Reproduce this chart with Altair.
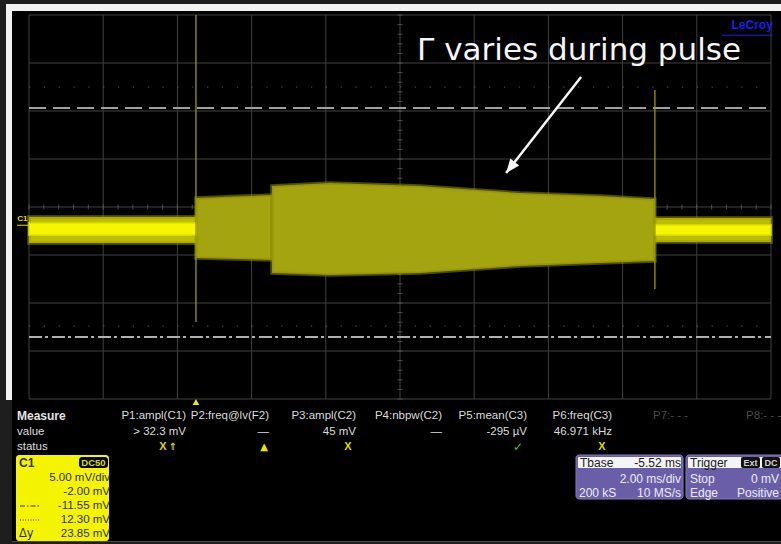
import altair as alt
import pandas as pd

# ---------------- waveform (time in ms, level in mV) ----------------
trace_time = [0.0, 4.50, 4.50, 6.55, 6.55, 8.11, 10.54, 13.23, 15.39, 16.87, 16.87, 20.0]
trace_upper = [-1.04, -1.04, 0.94, 1.25, 2.19, 2.50, 2.19, 1.46, 1.15, 0.83, -1.15, -1.15]
trace_lower = [-3.75, -3.75, -5.31, -5.52, -6.88, -7.08, -6.88, -6.15, -5.83, -5.63, -3.65, -3.65]
trace_segment = ["before", "before", "step1", "step1", "step2", "step2", "step2",
                 "step2", "step2", "step2", "after", "after"]

core_time = [0.0, 4.50, 16.87, 20.0]
core_upper = [-1.67, -1.67, -1.88, -1.88]
core_lower = [-2.92, -2.92, -2.92, -2.92]
core_segment = ["before", "before", "after", "after"]

# glitches at pulse on/off
glitch_time = [4.50, 16.87]
glitch_top = [20.0, 12.19]
glitch_bottom = [-11.98, -8.54]

# cursors
cursor_dashed = [10.31]
cursor_dashdot = [-13.54]
cursor_dotted = [12.5, -12.4]

# screen graticule: 2 ms/div, 5 mV/div
grid_time = [0, 2, 4, 6, 8, 10, 12, 14, 16, 18, 20]
grid_level = [-20, -15, -10, -5, 0, 5, 10, 15, 20]
minor_time = [round(0.4 * k, 2) for k in range(51)]
minor_level = list(range(-20, 21))

# annotation
note_text = ["Γ varies during pulse"]
note_time = [10.46]
note_level = [15.31]
arrow_start = [14.88, 13.54]
arrow_end = [12.86, 3.54]

# ---------------- measurement panel text ----------------
measure_rows = ["Measure", "value", "status"]
measure_headers = ["P1:ampl(C1)", "P2:freq@lv(F2)", "P3:ampl(C2)", "P4:nbpw(C2)",
                   "P5:mean(C3)", "P6:freq(C3)"]
measure_values = ["> 32.3 mV", "—", "45 mV", "—", "-295 µV", "46.971 kHz"]
measure_idle = ["P7:- - -", "P8:- - -"]
channel_rows = ["5.00 mV/div", "-2.00 mV", "-11.55 mV", "12.30 mV", "23.85 mV"]
tbase_rows = [("Tbase", "-5.52 ms"), ("", "2.00 ms/div"), ("200 kS", "10 MS/s")]
trigger_rows = [("Trigger", ""), ("Stop", "0 mV"), ("Edge", "Positive")]

# ---------------- layout ----------------
OX, OY = 29, 15          # plot origin on the page
W, H = 742, 384          # plot area
XS = alt.Scale(domain=[0, 20], nice=False, zero=False)
YS = alt.Scale(domain=[-20, 20], nice=False, zero=False)
PANEL_FONT = "Liberation Sans"
GRID = "#404040"


def xq(field):
    return alt.X(field, type="quantitative", scale=XS, axis=None)


def yq(field):
    return alt.Y(field, type="quantitative", scale=YS, axis=None)


def box(x1, y1, x2, y2, fill, radius=0, stroke=None):
    kw = dict(color=fill, cornerRadius=radius)
    if stroke:
        kw.update(stroke=stroke, strokeWidth=1)
    return alt.Chart().mark_rect(**kw).encode(
        x=alt.value(x1 - OX), x2=alt.value(x2 - OX),
        y=alt.value(y1 - OY), y2=alt.value(y2 - OY))


def label(txt, x, y, color="#dcdcdc", size=11.5, align="left", weight="normal",
          font=PANEL_FONT):
    return alt.Chart().mark_text(
        text=txt, align=align, baseline="middle", fontSize=size,
        fontWeight=weight, font=font, color=color).encode(
        x=alt.value(x - OX), y=alt.value(y - OY))


def hline(x1, x2, y, color, dash, width=1):
    return alt.Chart().mark_rule(color=color, strokeDash=dash, strokeWidth=width).encode(
        x=alt.value(x1 - OX), x2=alt.value(x2 - OX), y=alt.value(y - OY))


layers = []

# page frame
layers += [
    box(6, 4, 781, 11, "#f2f2f2"),
    box(6, 4, 12, 400, "#f2f2f2"),
    box(12, 11, 781, 541, "#000000"),
    box(12, 541, 781, 542, "#4a4a4a"),
]

# graticule
gx = pd.DataFrame({"t": grid_time, "lo": -20, "hi": 20})
gy = pd.DataFrame({"v": grid_level, "a": 0, "b": 20})
layers.append(alt.Chart(gx).mark_rule(color=GRID, strokeWidth=1).encode(
    x=xq("t"), y=yq("lo"), y2="hi"))
layers.append(alt.Chart(gy).mark_rule(color=GRID, strokeWidth=1).encode(
    y=yq("v"), x=xq("a"), x2="b"))
mx = pd.DataFrame({"t": minor_time, "v": 0})
my = pd.DataFrame({"v": minor_level, "t": 10})
layers.append(alt.Chart(mx).mark_tick(orient="vertical", size=5, thickness=1,
                                      color="#6a6a6a").encode(x=xq("t"), y=yq("v")))
layers.append(alt.Chart(my).mark_tick(orient="horizontal", size=5, thickness=1,
                                      color="#6a6a6a").encode(x=xq("t"), y=yq("v")))

# cursors
dots = pd.DataFrame({"v": cursor_dotted, "a": 0, "b": 20})
layers.append(alt.Chart(dots).mark_rule(color="#5c5c5c", strokeWidth=1,
                                        strokeDash=[1.2, 13.64]).encode(
    y=yq("v"), x=xq("a"), x2="b"))
dash = pd.DataFrame({"v": cursor_dashed, "a": 0, "b": 20})
layers.append(alt.Chart(dash).mark_rule(color="#a0a0a0", strokeWidth=2,
                                        strokeDash=[17, 7]).encode(
    y=yq("v"), x=xq("a"), x2="b"))
dd = pd.DataFrame({"v": cursor_dashdot, "a": 0, "b": 20})
layers.append(alt.Chart(dd).mark_rule(color="#b0b0b0", strokeWidth=2,
                                      strokeDash=[13, 3, 3, 4]).encode(
    y=yq("v"), x=xq("a"), x2="b"))

# waveform envelope
tr = pd.DataFrame({"t": trace_time, "hi": trace_upper, "lo": trace_lower,
                   "seg": trace_segment})
pulse = tr[tr.seg.str.startswith("step")]
base = tr[~tr.seg.str.startswith("step")]
layers.append(alt.Chart(pulse).mark_area(color="#a4a410", stroke="#8c8c08",
                                         strokeWidth=3.5, strokeOpacity=0.55).encode(
    x=xq("t"), y=yq("hi"), y2="lo", detail="seg:N"))
layers.append(alt.Chart(base).mark_area(color="#bcbc00", stroke="#9c9c00",
                                        strokeWidth=3.5, strokeOpacity=0.55).encode(
    x=xq("t"), y=yq("hi"), y2="lo", detail="seg:N"))
core = pd.DataFrame({"t": core_time, "hi": core_upper, "lo": core_lower,
                     "seg": core_segment})
layers.append(alt.Chart(core).mark_area(color="#f6f600", stroke="#e0e000",
                                        strokeWidth=2, strokeOpacity=0.7).encode(
    x=xq("t"), y=yq("hi"), y2="lo", detail="seg:N"))

gl = pd.DataFrame({"t": glitch_time, "top": glitch_top, "bot": glitch_bottom})
layers.append(alt.Chart(gl).mark_rule(color="#9a9a00", strokeWidth=1.3).encode(
    x=xq("t"), y=yq("top"), y2="bot"))

# channel marker on the left edge
c1 = pd.DataFrame({"t": [-0.32], "v": [-1.2], "t2": [-0.02], "u": [-1.9], "s": ["C1"]})
layers.append(alt.Chart(c1).mark_text(align="left", baseline="middle", fontSize=8,
                                      fontWeight="bold", font=PANEL_FONT,
                                      color="#e0e000").encode(
    x=xq("t"), y=yq("v"), text="s:N"))
layers.append(alt.Chart(c1).mark_rule(color="#e0e000", strokeWidth=1).encode(
    x=xq("t"), x2="t2", y=yq("u")))

# trigger position marker
trig = pd.DataFrame({"t": [4.5]})
layers.append(alt.Chart(trig).mark_point(shape="triangle-up", filled=True, size=45,
                                         color="#e8e800", opacity=1).encode(
    x=xq("t"), y=alt.value(H + 3)))

# brand
brand = pd.DataFrame({"t": [20.05], "v": [18.5], "t1": [18.68], "u": [17.9], "s": ["LeCroy"]})
layers.append(alt.Chart(brand).mark_text(align="right", baseline="alphabetic", fontSize=12,
                                         fontWeight="bold", font=PANEL_FONT,
                                         color="#1c1cf0").encode(
    x=xq("t"), y=yq("v"), text="s:N"))
layers.append(alt.Chart(brand).mark_rule(color="#1c1cf0", strokeWidth=1).encode(
    x=xq("t1"), x2="t", y=yq("u")))

# annotation with arrow
note = pd.DataFrame({"t": note_time, "v": note_level, "s": note_text})
layers.append(alt.Chart(note).mark_text(align="left", baseline="alphabetic", fontSize=31,
                                        font="DejaVu Sans", color="#f6f6f6").encode(
    x=xq("t"), y=yq("v"), text="s:N"))
arr = pd.DataFrame({"t": [arrow_start[0]], "v": [arrow_start[1]],
                    "t2": [arrow_end[0]], "v2": [arrow_end[1]]})
layers.append(alt.Chart(arr).mark_rule(color="#f6f6f6", strokeWidth=2.5).encode(
    x=xq("t"), y=yq("v"), x2="t2", y2="v2"))
layers.append(alt.Chart(arr).mark_point(shape="M0,0L0.62,1.55L-0.62,1.55Z", filled=True,
                                        size=330, angle=218, color="#f6f6f6",
                                        opacity=1).encode(x=xq("t2"), y=yq("v2")))

# ---------------- measurement panel ----------------
row_y = [416, 432, 447]
col_right = [186, 269, 356, 442, 527, 612]
layers.append(label(measure_rows[0], 17, row_y[0], size=12, weight="bold", color="#e4e4e4"))
layers.append(label(measure_rows[1], 17, row_y[1]))
layers.append(label(measure_rows[2], 17, row_y[2]))
for txt, xr in zip(measure_headers, col_right):
    layers.append(label(txt, xr, row_y[0], align="right"))
for txt, xr in zip(measure_values, col_right):
    layers.append(label(txt, xr, row_y[1], align="right"))
layers.append(label(measure_idle[0], 653, row_y[0], color="#4c4c4c"))
layers.append(label(measure_idle[1], 746, row_y[0], color="#4c4c4c"))

# status icons
layers += [
    label("X", 163, row_y[2], color="#d8d800", size=11, weight="bold", align="center"),
    label("⇑", 173, row_y[2], color="#e8e8b0", size=10, align="center", font="DejaVu Sans"),
    label("▲", 264, row_y[2], color="#e8e800", size=10, align="center", font="DejaVu Sans"),
    label("X", 348, row_y[2], color="#d8d800", size=11, weight="bold", align="center"),
    label("✓", 518, row_y[2], color="#3cc83c", size=12, weight="bold", align="center",
          font="DejaVu Sans"),
    label("X", 602, row_y[2], color="#d8d800", size=11, weight="bold", align="center"),
]

# channel descriptor
ink = "#2e2e00"
layers.append(box(16, 455, 109, 541, "#f4f400", radius=3))
layers.append(label("C1", 19, 463, color=ink, size=12, weight="bold"))
layers.append(box(79, 457, 108, 468, "#000000", radius=3))
layers.append(label("DC50", 93.5, 462.5, color="#dede00", size=9.5, weight="bold", align="center"))
for txt, yy in zip(channel_rows, [478, 492, 506, 520, 533.5]):
    layers.append(label(txt, 110, yy, color=ink, size=11.5, align="right"))
layers.append(hline(20, 40, 506, ink, [5, 2, 1.5, 2], 1))
layers.append(hline(20, 40, 520, ink, [1, 1.6], 1))
layers.append(label("Δy", 19, 533.5, color=ink, size=11.5, font="DejaVu Sans"))

# timebase and trigger descriptors
purple = "#6b5ea8"
layers.append(box(576, 455, 683, 499, purple, radius=3, stroke="#8478c0"))
layers.append(box(578, 457, 681, 468, "#f4f4f4", radius=1))
layers.append(label(tbase_rows[0][0], 580, 462.5, color="#202020", size=12))
layers.append(label(tbase_rows[0][1], 681, 462.5, color="#202020", size=12, align="right"))
layers.append(label(tbase_rows[1][1], 681, 479, color="#ececf6", size=12, align="right"))
layers.append(label(tbase_rows[2][0], 579, 493, color="#ececf6", size=12))
layers.append(label(tbase_rows[2][1], 681, 493, color="#ececf6", size=12, align="right"))

layers.append(box(686, 455, 784, 499, purple, radius=3, stroke="#8478c0"))
layers.append(box(688, 457, 781, 468, "#f4f4f4", radius=1))
layers.append(label(trigger_rows[0][0], 690, 462.5, color="#202020", size=12))
layers.append(box(741, 457, 760, 468, "#111111", radius=2))
layers.append(label("Ext", 750.5, 462.5, color="#d0d0d0", size=9, weight="bold", align="center"))
layers.append(box(762, 457, 780, 468, "#111111", radius=2))
layers.append(label("DC", 771, 462.5, color="#d0d0d0", size=9, weight="bold", align="center"))
layers.append(label(trigger_rows[1][0], 690, 479, color="#ececf6", size=12))
layers.append(label(trigger_rows[1][1], 779, 479, color="#ececf6", size=12, align="right"))
layers.append(label(trigger_rows[2][0], 690, 493, color="#ececf6", size=12))
layers.append(label(trigger_rows[2][1], 779, 493, color="#ececf6", size=12, align="right"))

chart = alt.layer(*layers).properties(
    width=W, height=H,
    autosize=alt.AutoSizeParams(type="none"),
    padding={"left": OX, "top": OY, "right": 781 - OX - W, "bottom": 544 - OY - H},
    background="#1e1e1e",
).configure_view(stroke=None, fill="#000000")

chart.save("out.html", embed_options={"renderer": "svg", "actions": False})
